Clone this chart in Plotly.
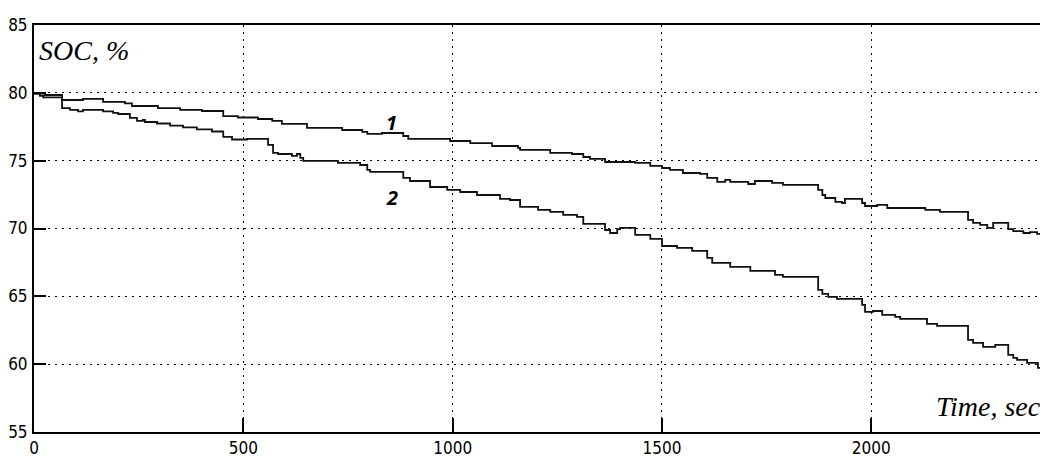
import plotly.graph_objects as go

# Curve 1 (step data): time in sec, SOC in %
t1 = [0, 26, 67, 117, 165, 217, 234, 296, 349, 401, 452, 487, 535, 569, 592, 652,
      736, 784, 796, 831, 882, 894, 994, 1042, 1094, 1156, 1161, 1233, 1285, 1312,
      1328, 1364, 1436, 1472, 1500, 1519, 1550, 1591, 1608, 1632, 1651, 1663, 1706,
      1722, 1763, 1789, 1873, 1883, 1890, 1914, 1930, 1937, 1978, 1985, 2014, 2038,
      2129, 2164, 2231, 2243, 2260, 2277, 2291, 2327, 2339, 2363, 2379, 2396, 2415, 2422]
soc1 = [79.95, 79.84, 79.47, 79.55, 79.33, 79.22, 79.03, 78.88, 78.74, 78.66, 78.29, 78.18,
        78.07, 77.93, 77.71, 77.41, 77.26, 77.12, 76.97, 77.04, 76.82, 76.60, 76.45, 76.30,
        76.08, 75.94, 75.79, 75.57, 75.49, 75.27, 75.13, 74.90, 74.83, 74.61, 74.46, 74.32,
        74.09, 74.02, 73.73, 73.43, 73.58, 73.43, 73.28, 73.50, 73.36, 73.21, 72.84, 72.47,
        72.25, 71.96, 71.88, 72.18, 71.88, 71.66, 71.74, 71.51, 71.37, 71.22, 70.63, 70.41,
        70.26, 70.04, 70.41, 69.96, 69.81, 69.67, 69.74, 69.60, 69.38, 69.38]

# Curve 2 (step data)
t2 = [0, 14, 22, 67, 86, 105, 117, 165, 189, 201, 229, 246, 260, 265, 294, 325, 356,
      389, 425, 452, 473, 509, 559, 571, 583, 616, 628, 636, 643, 726, 779, 796, 803,
      882, 898, 946, 987, 1018, 1058, 1113, 1137, 1161, 1204, 1233, 1264, 1297, 1312,
      1364, 1376, 1393, 1400, 1436, 1472, 1500, 1536, 1572, 1608, 1620, 1663, 1711,
      1770, 1789, 1873, 1883, 1897, 1918, 1978, 1985, 2004, 2026, 2057, 2069, 2133,
      2157, 2231, 2243, 2267, 2296, 2327, 2339, 2348, 2372, 2398, 2422]
soc2 = [79.95, 79.77, 79.66, 78.88, 78.74, 78.63, 78.74, 78.63, 78.52, 78.44, 78.15, 77.93,
        78.00, 77.85, 77.74, 77.59, 77.45, 77.30, 77.15, 76.75, 76.56, 76.60, 76.16, 75.57,
        75.49, 75.35, 75.49, 75.20, 74.98, 74.83, 74.68, 74.32, 74.17, 73.73, 73.50, 73.06,
        72.84, 72.69, 72.47, 72.18, 72.10, 71.59, 71.37, 71.22, 71.00, 70.85, 70.34, 69.89,
        69.67, 69.96, 70.04, 69.53, 69.23, 68.71, 68.57, 68.35, 67.83, 67.46, 67.17, 66.87,
        66.58, 66.43, 65.47, 65.18, 64.96, 64.81, 64.37, 63.85, 63.92, 63.63, 63.48, 63.34,
        62.97, 62.82, 61.79, 61.57, 61.27, 61.42, 60.68, 60.46, 60.31, 60.09, 59.72, 59.65]

x_ticks = [0, 500, 1000, 1500, 2000]
y_ticks = [55, 60, 65, 70, 75, 80, 85]

tick_font = dict(family="Liberation Sans Narrow, DejaVu Sans Condensed, Liberation Sans, sans-serif",
                 size=17, color="black")

fig = go.Figure()
for t, s in [(t1, soc1), (t2, soc2)]:
    fig.add_trace(go.Scatter(x=t, y=s, mode="lines", line=dict(color="#111111", width=1.8, shape="hv"),
                             showlegend=False, hoverinfo="skip"))

# The page body has an 8px default margin, so the figure is sized/offset to compensate.
fig.update_layout(
    width=1040, height=456,
    margin=dict(l=26, r=0, t=17, b=32, autoexpand=False),
    paper_bgcolor="white", plot_bgcolor="white",
    xaxis=dict(range=[0, 2422], tickvals=x_ticks, ticktext=[str(v) for v in x_ticks],
               showgrid=True, gridcolor="black", gridwidth=1, griddash="2px,5px",
               showline=True, linecolor="black", linewidth=2, mirror=True,
               ticks="inside", ticklen=14, tickwidth=2, tickcolor="black",
               tickfont=tick_font, zeroline=False, automargin=False, ticklabelstandoff=0),
    yaxis=dict(range=[55, 85], tickvals=y_ticks, ticktext=[str(v) for v in y_ticks],
               showgrid=True, gridcolor="black", gridwidth=1, griddash="2px,5px",
               showline=True, linecolor="black", linewidth=2,
               ticks="inside", ticklen=12, tickwidth=2, tickcolor="black",
               tickfont=tick_font, zeroline=False, automargin=False, ticklabelstandoff=1),
)

serif_soc = dict(family="Liberation Serif, DejaVu Serif, serif", size=28, color="black", style="italic")
serif_time = dict(family="Liberation Serif, DejaVu Serif, serif", size=28, color="black", style="italic")
bold = dict(family="Open Sans, Lato, sans-serif", size=20, color="black", weight="bold", style="italic")
fig.add_annotation(x=8, y=83.15, text="SOC, %", showarrow=False, xanchor="left", yanchor="middle", font=serif_soc)
fig.add_annotation(x=2150, y=56.9, text="Time, sec", showarrow=False, xanchor="left", yanchor="middle", font=serif_time)
fig.add_annotation(x=855, y=77.85, text="1", showarrow=False, xanchor="center", yanchor="middle", font=bold)
fig.add_annotation(x=855, y=72.25, text="2", showarrow=False, xanchor="center", yanchor="middle", font=bold)

fig.write_html("out.html")
